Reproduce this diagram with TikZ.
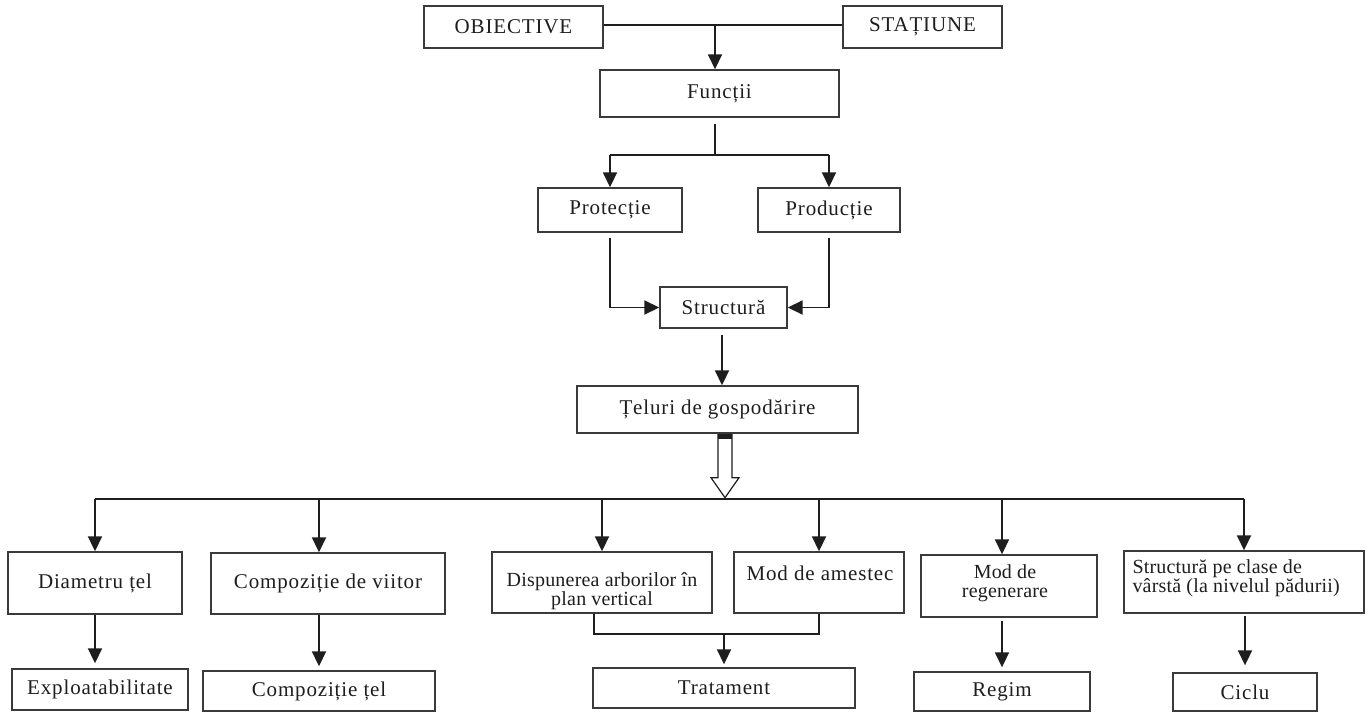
\documentclass[tikz,border=0pt]{standalone}
\usepackage{fontspec}
\setmainfont{Liberation Serif}[LetterSpace=4]
\newfontfamily\tightserif{Liberation Serif}[LetterSpace=1]
\usetikzlibrary{arrows.meta,calc}
\definecolor{ink}{HTML}{1E1E1E}
\definecolor{frame}{HTML}{3A3A3A}
\tikzset{
  box/.style={draw=frame, line width=1.4pt, inner sep=0pt, fill=white, text=ink,
    font=\fontsize{21}{17}\selectfont, align=center},
  txt/.style={inner sep=0pt, text=ink, font=\fontsize{21}{17}\selectfont},
  txttwo/.style={inner sep=0pt, text=ink, font=\tightserif\fontsize{20}{19}\selectfont},
  conn/.style={draw=ink, line width=1.8pt},
  arr/.style={conn, -{Triangle[width=14pt,length=15pt]}},
}
\newcommand{\bx}[6]{\node[box, minimum width={(#4)-(#2)}, minimum height={(#5)-(#3)}] (#1) at ({((#2)+(#4))/2},{((#3)+(#5))/2}) {#6};}
\begin{document}
\begin{tikzpicture}[x=1pt,y=-1pt]
\useasboundingbox[fill=white] (0,0) rectangle (1372,712);
% top row
\bx{ob}{424}{6}{603}{48}{OBIECTIVE}
\bx{st}{843}{6}{1002}{48}{STAȚIUNE}
\bx{fu}{600}{70}{839}{117}{Funcții}
\bx{pt}{538}{188}{682}{232}{Protecție}
\bx{pd}{758}{188}{900}{232}{Producție}
\bx{su}{660}{287}{787}{328}{Structură}
\bx{tg}{577}{386}{858}{433}{Țeluri de gospodărire}
% row 1
\bx{dt}{8}{552}{182}{614}{Diametru țel}
\bx{cv}{211}{553}{445}{614}{Compoziție de viitor}
\bx{dp}{492}{552}{712}{613}{}
\bx{ma}{734}{552}{904}{613}{}
\bx{mr}{921}{555}{1097}{617}{}
\bx{sc}{1124}{551}{1364}{613}{}
\node[txttwo, align=center] (dpt) at (602,591) {Dispunerea arborilor în\\plan vertical};
\node[txt] (mat) at (820,573) {Mod de amestec};
\node[txttwo, align=center] (mrt) at (1005,583) {Mod de\\regenerare};
\node[txttwo, align=left, anchor=north west] (sct) at ($(sc.north west)+(9,9)$) {Structură pe clase de\\vârstă (la nivelul pădurii)};
% row 2
\bx{ex}{12}{669}{188}{710}{Exploatabilitate}
\bx{ct}{203}{671}{435}{711}{Compoziție țel}
\bx{tr}{593}{668}{855}{708}{Tratament}
\bx{rg}{914}{672}{1090}{711}{Regim}
\bx{ci}{1173}{673}{1317}{711}{Ciclu}

% top connectors
\coordinate (a0) at (715,25);
\draw[conn] (ob.east |- a0) -- (st.west |- a0);
\draw[arr] (a0) -- (a0 |- fu.north);
\coordinate (j1) at (715,155);
\draw[conn] ($(fu.south -| j1)+(0,6)$) -- (j1);
\draw[conn] (j1 -| pt.north) -- (j1 -| pd.north);
\draw[arr] (j1 -| pt.north) -- (pt.north);
\draw[arr] (j1 -| pd.north) -- (pd.north);
\draw[arr] ($(pt.south)+(0,5)$) |- (su.west);
\draw[arr] ($(pd.south)+(0,5)$) |- (su.east);
\coordinate (a1) at (722,335);
\draw[arr] (a1) -- (a1 |- tg.north);

% hollow arrow
\coordinate (ha) at ($(tg.south)+(7.5,0)$);
\draw[ink, line width=1.2pt, fill=white]
  ($(ha)+(-7,1)$) -- ($(ha)+(-7,44)$) -- ($(ha)+(-14,44)$) -- ($(ha)+(0,64)$)
  -- ($(ha)+(14,44)$) -- ($(ha)+(7,44)$) -- ($(ha)+(7,1)$) -- cycle;
\fill[ink] ($(ha)+(-7,0)$) rectangle ($(ha)+(7,5)$);

% distribution line
\coordinate (hb) at (0,499);
\draw[conn] (hb -| dt.north) -- (hb -| sc.north);
\draw[arr] (hb -| dt.north) -- (dt.north);
\draw[arr] (hb -| ct.north) -- (ct.north |- cv.north);
\draw[arr] (hb -| dp.north) -- (dp.north);
\draw[arr] (hb -| ma.north) -- (ma.north);
\draw[arr] (hb -| rg.north) -- (rg.north |- mr.north);
\draw[arr] (hb -| sc.north) -- (sc.north);

% row 2 connectors
\draw[arr] (dt.south) -- ($(dt.south |- ex.north)+(0,-5)$);
\draw[arr] (ct.north |- cv.south) -- ($(ct.north)+(0,-4)$);
\coordinate (j2) at (0,634);
\draw[conn] ($(dp.south)+(-8,0)$) |- (j2 -| ma.south) -- (ma.south);
\draw[arr] (j2 -| tr.north) -- ($(tr.north)+(0,-3)$);
\draw[arr] ($(rg.north |- mr.south)+(0,3)$) -- ($(rg.north)+(0,-4)$);
\draw[arr] ($(sc.south -| ci.north)+(0,2)$) -- ($(ci.north)+(0,-7)$);
\end{tikzpicture}
\end{document}
